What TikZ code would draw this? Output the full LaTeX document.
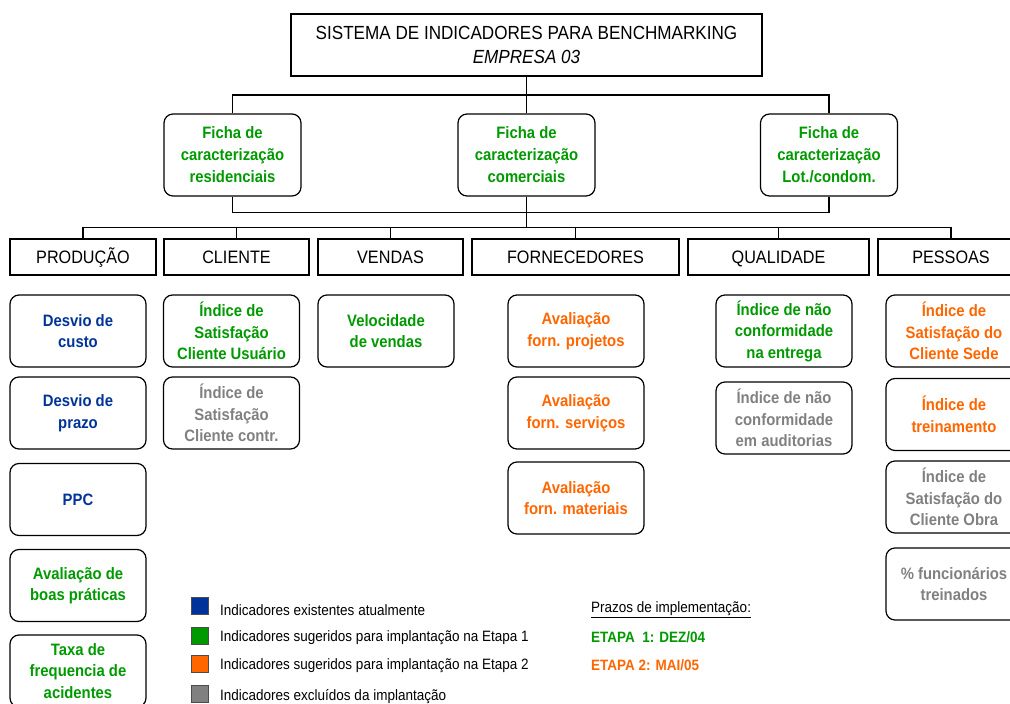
\documentclass[tikz,border=0pt]{standalone}
\usepackage{fontspec}
\setmainfont{Liberation Sans}[FakeStretch=0.9]
\definecolor{cblue}{HTML}{003399}
\definecolor{cgreen}{HTML}{009900}
\definecolor{corange}{HTML}{FF6600}
\definecolor{cgray}{HTML}{808080}
\begin{document}
\begin{tikzpicture}[x=1pt,y=-1pt,
  conn/.style={line width=1.2pt},
  titlebox/.style={draw, line width=1.2pt, minimum width=471pt, minimum height=62pt, inner sep=0pt, align=center, font=\fontsize{19}{26}\selectfont},
  fichabox/.style={draw, line width=1.2pt, rounded corners=9pt, minimum width=137pt, minimum height=82pt, inner sep=0pt, align=center, text=cgreen, font=\bfseries\fontsize{16.5}{22}\selectfont},
  catbox/.style={draw, line width=1.2pt, minimum height=36pt, inner sep=0pt, text height=13pt, text depth=0pt, font=\fontsize{18}{20}\selectfont},
  indbox/.style={draw, line width=1.2pt, rounded corners=9pt, minimum width=136pt, minimum height=72pt, inner sep=0pt, align=center, font=\bfseries\fontsize{16.5}{21.5}\selectfont},
  legsq/.style={draw=black!70, line width=0.8pt, minimum size=17pt, inner sep=0pt},
  legtxt/.style={anchor=west, inner sep=0pt, font=\fontsize{15}{17}\selectfont},
  etapa/.style={anchor=west, inner sep=0pt, font=\bfseries\fontsize{15}{17}\selectfont}
]
\useasboundingbox (0,0) rectangle (1010,704);
\clip (0,0) rectangle (1010,704);

% title
\node[titlebox] (title) at (526.5,45) {\raisebox{-1.5pt}{SISTEMA DE INDICADORES PARA BENCHMARKING}\\\textit{EMPRESA 03}};

% ficha boxes
\node[fichabox] (f1) at (232.5,155) {Ficha de\\caracterização\\residenciais};
\node[fichabox] (f2) at (526.5,155) {Ficha de\\caracterização\\comerciais};
\node[fichabox] (f3) at (829,155) {Ficha de\\caracterização\\Lot./condom.};

% categories
\node[catbox, minimum width=146pt] (c1) at (83,257) {PRODUÇÃO};
\node[catbox, minimum width=145pt] (c2) at (236.5,257) {CLIENTE};
\node[catbox, minimum width=145pt] (c3) at (390.5,257) {VENDAS};
\node[catbox, minimum width=207pt] (c4) at (575.5,257) {FORNECEDORES};
\node[catbox, minimum width=181pt] (c5) at (778.5,257) {QUALIDADE};
\node[catbox, minimum width=146pt] (c6) at (951,257) {PESSOAS};

% connectors
\coordinate (j1) at (526.5,95);
\coordinate (j2) at (526.5,212.5);
\coordinate (j3) at (526.5,227.5);
\draw[conn] (title.south) -- (f2.north);
\draw[conn] (f1.north) |- (j1) -| (f3.north);
\draw[conn] (f1.south) |- (j2) -| (f3.south);
\draw[conn] (f2.south) -- (j3);
\draw[conn] (c1.north) |- (j3) -| (c6.north);
\draw[conn] (c2.north) -- (c2.north |- j3);
\draw[conn] (c3.north) -- (c3.north |- j3);
\draw[conn] (c4.north) -- (c4.north |- j3);
\draw[conn] (c5.north) -- (c5.north |- j3);

% PRODUCAO
\node[indbox, text=cblue] (p1) at (78,331) {Desvio de\\custo};
\node[indbox, text=cblue] (p2) at (78,413) {Desvio de\\prazo};
\node[indbox, text=cblue] (p3) at (78,499.5) {PPC};
\node[indbox, text=cgreen] (p4) at (78,585.5) {Avaliação de\\boas práticas};
\node[indbox, text=cgreen] (p5) at (78,671) {Taxa de\\frequencia de\\acidentes};

% CLIENTE
\node[indbox, text=cgreen] (cl1) at (231.5,331) {Índice de\\Satisfação\\Cliente Usuário};
\node[indbox, text=cgray] (cl2) at (231.5,413) {Índice de\\Satisfação\\Cliente contr.};

% VENDAS
\node[indbox, text=cgreen] (v1) at (386,331) {Velocidade\\de vendas};

% FORNECEDORES
\node[indbox, text=corange] (fo1) at (576,331) {Avaliação\\forn. projetos};
\node[indbox, text=corange] (fo2) at (576,413) {Avaliação\\forn. serviços};
\node[indbox, text=corange] (fo3) at (576,498) {Avaliação\\forn. materiais};

% QUALIDADE
\node[indbox, text=cgreen] (q1) at (784,331) {Índice de não\\conformidade\\na entrega};
\node[indbox, text=cgray] (q2) at (784,418) {Índice de não\\conformidade\\em auditorias};

% PESSOAS
\node[indbox, text=corange] (pe1) at (954,331) {Índice de\\Satisfação do\\Cliente Sede};
\node[indbox, text=corange] (pe2) at (954,414.5) {Índice de\\treinamento};
\node[indbox, text=cgray] (pe3) at (954,497) {Índice de\\Satisfação do\\Cliente Obra};
\node[indbox, text=cgray] (pe4) at (954,584) {\% funcionários\\treinados};

% legend
\node[legsq, fill=cblue] (l1) at (200,606) {};
\node[legsq, fill=cgreen] (l2) at (200,636) {};
\node[legsq, fill=corange] (l3) at (200,664) {};
\node[legsq, fill=cgray] (l4) at (200,694) {};
\node[legtxt] (t1) at (220,610) {Indicadores existentes atualmente};
\node[legtxt] (t2) at (220,638) {Indicadores sugeridos para implantação na Etapa 1};
\node[legtxt] (t3) at (220,666) {Indicadores sugeridos para implantação na Etapa 2};
\node[legtxt] (t4) at (220,697) {Indicadores excluídos da implantação};

\node[legtxt] (pz) at (591,610) {\underline{Prazos de implementação:}};
\node[etapa, text=cgreen] (e1) at (591,637) {ETAPA\ \ 1: DEZ/04};
\node[etapa, text=corange] (e2) at (591,665) {ETAPA 2: MAI/05};
\end{tikzpicture}
\end{document}
